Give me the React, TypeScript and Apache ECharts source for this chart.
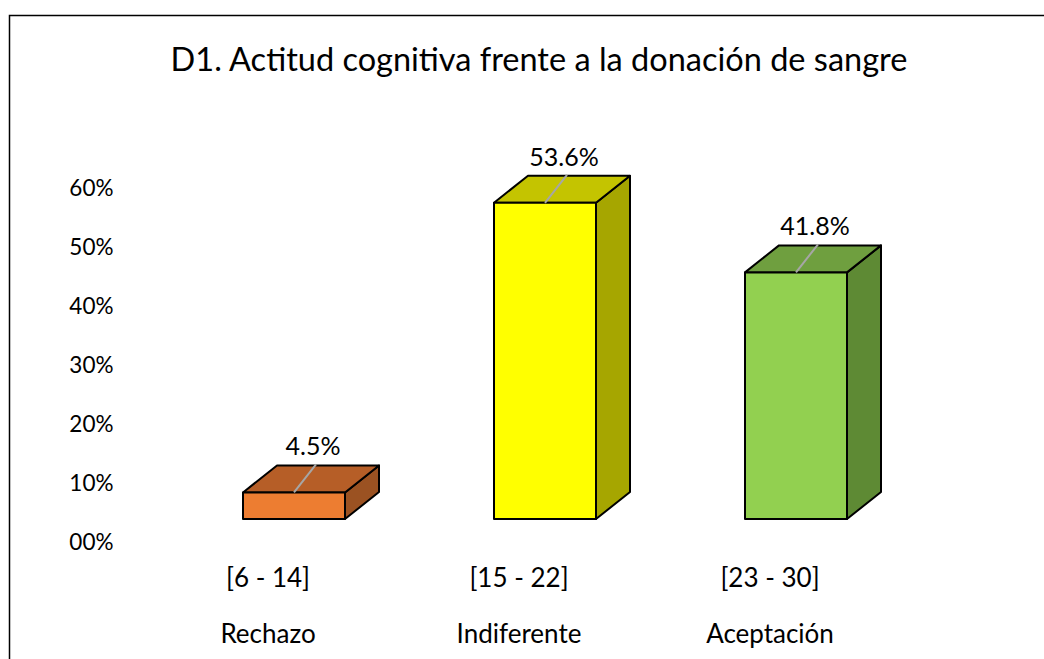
import React, { useEffect, useRef } from "react";
import * as echarts from "echarts";

const titleText = "D1. Actitud cognitiva frente a la donación de sangre";
const ranges = ["[6 - 14]", "[15 - 22]", "[23 - 30]"];
const levels = ["Rechazo", "Indiferente", "Aceptación"];
const values = [0.045, 0.536, 0.418];
const frontColors = ["#ED7D31", "#FFFF00", "#92D050"];
const topColors = ["#B65E27", "#C4C400", "#6F9F3F"];
const sideColors = ["#9B5222", "#A6A600", "#5E8A34"];
const yTicks = [0, 0.1, 0.2, 0.3, 0.4, 0.5, 0.6];

const FONT = "Lato, 'Open Sans', sans-serif";

export default function App() {
  const ref = useRef<HTMLDivElement>(null);
  useEffect(() => {
    if (!ref.current) return;
    const chart = echarts.init(ref.current, null, { renderer: "svg" });
    const DX = 34, DY = -27, HALF = 51, SHIFT_X = 26, SHIFT_Y = -22;
    chart.setOption({
      animation: false,
      backgroundColor: "#fff",
      title: {
        text: titleText,
        left: 534,
        top: 37,
        textAlign: "center",
        textStyle: { fontFamily: FONT, fontSize: 32.5, fontWeight: "normal", color: "#000" },
      },
      graphic: [
        {
          type: "rect",
          shape: { x: 9.5, y: 15.5, width: 1100, height: 700 },
          style: { fill: "none", stroke: "#000", lineWidth: 1.5 },
          silent: true,
        },
      ],
      grid: { left: 142.5, right: 148.5, top: 187, bottom: 118 },
      xAxis: {
        type: "category",
        data: ranges,
        axisLine: { show: false },
        axisTick: { show: false },
        axisLabel: {
          margin: 8,
          formatter: (val: string, i: number) => `{a|${val}}\n{a|${levels[i]}}`,
          rich: { a: { fontFamily: FONT, fontSize: 26, color: "#000", lineHeight: 56 } },
        },
      },
      yAxis: {
        type: "value",
        min: 0,
        max: yTicks[yTicks.length - 1],
        interval: 0.1,
        axisLine: { show: false },
        axisTick: { show: false },
        splitLine: { show: false },
        axisLabel: {
          margin: 29,
          fontFamily: FONT,
          fontSize: 22.5,
          color: "#000",
          formatter: (v: number) => String(Math.round(v * 100)).padStart(2, "0") + "%",
        },
      },
      series: [
        {
          type: "custom",
          clip: false,
          data: values.map((v, i) => [i, v]),
          renderItem: (params: any, api: any) => {
            const idx = api.value(0);
            const v = api.value(1);
            const c = api.coord([idx, v]);
            const b = api.coord([idx, 0]);
            const cx = c[0] + SHIFT_X;
            const x0 = cx - HALF;
            const x1 = cx + HALF;
            const yT = c[1] + SHIFT_Y;
            const yB = b[1] + SHIFT_Y;
            const edge = { stroke: "#000", lineWidth: 2, lineJoin: "round" };
            return {
              type: "group",
              children: [
                {
                  type: "polygon",
                  shape: { points: [[x1, yT], [x1 + DX, yT + DY], [x1 + DX, yB + DY], [x1, yB]] },
                  style: { fill: sideColors[idx], ...edge },
                },
                {
                  type: "polygon",
                  shape: { points: [[x0, yT], [x1, yT], [x1 + DX, yT + DY], [x0 + DX, yT + DY]] },
                  style: { fill: topColors[idx], ...edge },
                },
                {
                  type: "rect",
                  shape: { x: x0, y: yT, width: HALF * 2, height: yB - yT },
                  style: { fill: frontColors[idx], ...edge },
                },
                {
                  type: "line",
                  shape: { x1: cx, y1: yT, x2: cx + 22, y2: yT - 28 },
                  style: { stroke: "#A6A6A6", lineWidth: 2 },
                },
                {
                  type: "text",
                  x: cx + 19,
                  y: yT - 47,
                  style: {
                    text: (v * 100).toFixed(1) + "%",
                    fontFamily: FONT,
                    fontSize: 25,
                    fill: "#000",
                    align: "center",
                    verticalAlign: "middle",
                  },
                },
              ],
            };
          },
        },
      ],
    });
    return () => chart.dispose();
  }, []);
  return (
    <div
      ref={ref}
      style={{ position: "fixed", left: 0, top: 0, width: 1044, height: 659 }}
    />
  );
}
